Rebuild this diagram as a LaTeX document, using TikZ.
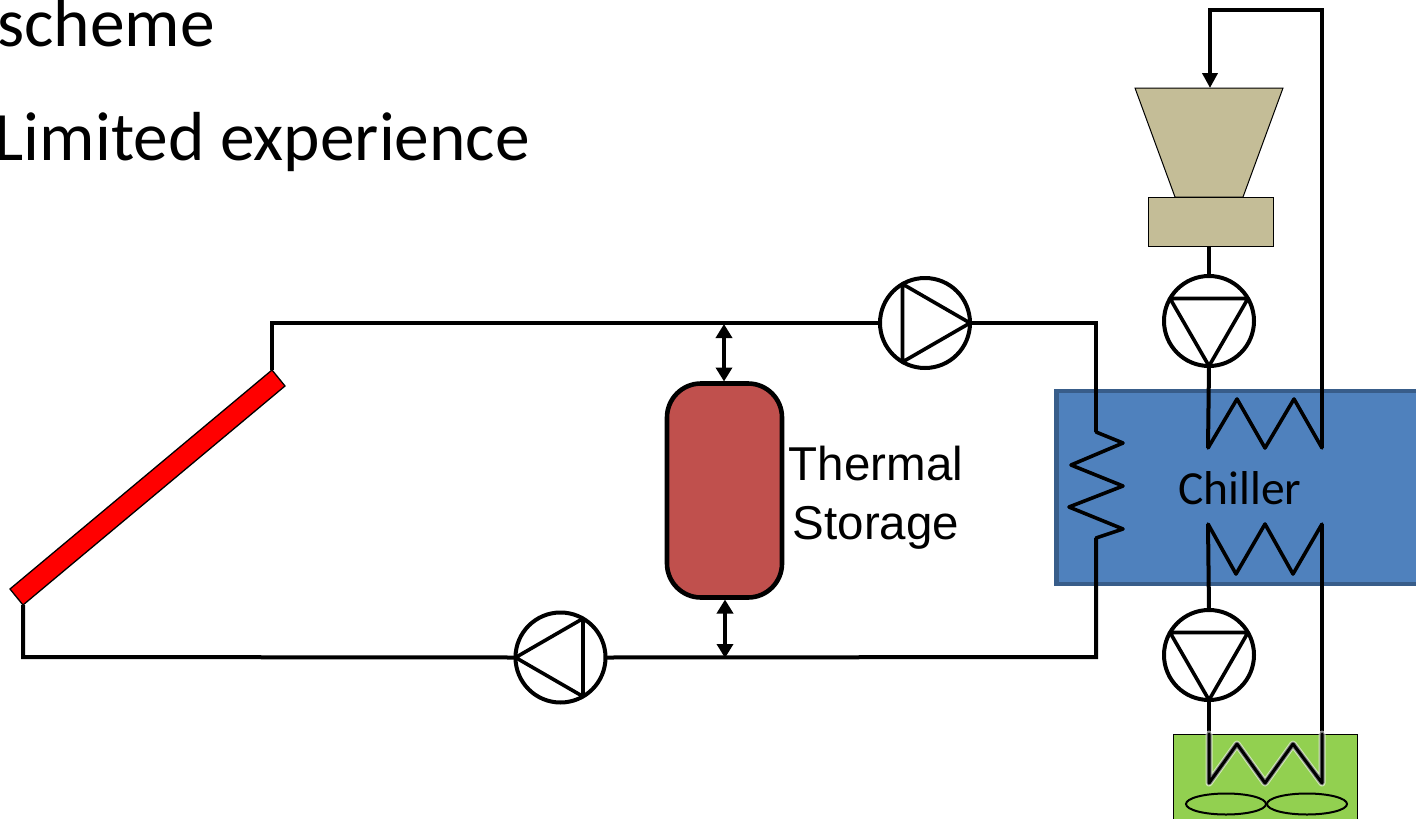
\documentclass[tikz,border=0pt]{standalone}
\usepackage{fontspec}
\setmainfont{Carlito}
\newfontfamily\arialfont{Liberation Sans}
\usetikzlibrary{arrows.meta,shapes.geometric}
\definecolor{chillerblue}{HTML}{4F81BD}
\definecolor{chillerline}{HTML}{385D8A}
\definecolor{storagered}{HTML}{C0504D}
\definecolor{turbinetan}{HTML}{C4BD97}
\definecolor{fangreen}{HTML}{92D050}
\tikzset{
  pipe/.style={line width=4pt,line join=miter,black},
  coil/.style={line width=3.6pt,line join=round,line cap=round,black},
  pumpnode/.style={circle,draw=black,fill=white,line width=4pt,minimum size=90pt,inner sep=0pt,outer sep=0pt},
  pumptri/.style={line width=3.6pt,line join=round},
  thin box/.style={draw=black,line width=1pt,inner sep=0pt,outer sep=0pt},
  headline/.style={anchor=base west,inner sep=0pt,font=\fontsize{69.400}{69.400}\selectfont},
  dbl/.style={line width=3.6pt,{Triangle[length=14pt,width=16pt]}-{Triangle[length=14pt,width=16pt]}},
  fanblade/.style={ellipse,draw=black,line width=2pt,minimum width=80pt,minimum height=21pt,inner sep=0pt}
}
\begin{document}
\begin{tikzpicture}[x=1pt,y=-1pt]
\useasboundingbox (0,0) rectangle (1416,819);
\clip (0,0) rectangle (1416,819);
\fill[white] (0,0) rectangle (1416,819);

% headings
\node[headline] (t1) at (-3,46) {scheme};
\node[headline] (t2) at (-5.500,160) {Limited experience};

% chiller block
\node[draw=chillerline,fill=chillerblue,line width=4.5pt,minimum width=420pt,minimum height=193pt,inner sep=0pt,outer sep=0pt,anchor=north west] (chiller) at (1056.500,391) {};
\node[font=\fontsize{47.500}{47.500}\selectfont,anchor=base,inner sep=0pt] (chillerlabel) at (1240,504) {Chiller};

% fan block
\node[thin box,fill=fangreen,minimum width=184pt,minimum height=120pt,anchor=north west] (fan) at (1173,734) {};

% turbine and generator
\coordinate (tt) at (1210,88);
\draw[draw=black,line width=1pt,fill=turbinetan] (1135,88) -- (1283,88) -- (1243,197) -- (1175,197) -- cycle;
\node[thin box,fill=turbinetan,minimum width=125pt,minimum height=49pt,anchor=north west] (gen) at (1148,197) {};

% collector
\coordinate (cTop) at (272,370);
\coordinate (cBot) at (23,605);
\draw[fill=red,draw=black,line width=1.3pt,line join=miter] (cTop) -- (285,386) -- (cBot) -- (10,589) -- cycle;

% coil junctions
\coordinate (hxA) at (1096,432);
\coordinate (hxB) at (1096,538);
\coordinate (upL) at (1208,448);
\coordinate (upR) at (1322,448);
\coordinate (loL) at (1208,524);
\coordinate (loR) at (1322,524);
\coordinate (fnL) at (1209,783);
\coordinate (fnR) at (1322,783);

% pumps
\node[pumpnode] (p1) at (925,323) {};
\node[pumpnode] (p2) at (560.500,657.500) {};
\node[pumpnode] (p3) at (1209,321) {};
\node[pumpnode] (p4) at (1209,655) {};
\draw[pumptri] (p1.0) -- (p1.120) -- (p1.240) -- cycle;
\draw[pumptri] (p2.180) -- (p2.60) -- (p2.300) -- cycle;
\draw[pumptri] (p3.270) -- (p3.30) -- (p3.150) -- cycle;
\draw[pumptri] (p4.270) -- (p4.30) -- (p4.150) -- cycle;

% storage
\node[draw=black,fill=storagered,line width=4.6pt,rounded corners=34pt,minimum width=115pt,minimum height=214pt,inner sep=0pt,outer sep=2pt] (store) at (724.500,490.500) {};
\node[font=\arialfont\fontsize{47.500}{59}\selectfont,align=center,inner sep=0pt,anchor=base] (storelabel) at (876,539) {Thermal\\Storage};

% main loop
\coordinate (topJ) at (724,323);
\coordinate (botJ) at (725,657);
\draw[pipe] (cTop) -- (272,323) -- (p1.west);
\draw[pipe] (p1.east) -- (1096,323) -- (hxA);
\draw[pipe] (hxB) -- (1096,657) -- (p2.east);
\draw[pipe] (p2.west) -- (23,657) -- (cBot);
\draw[coil] (hxA) -- (1123,443) -- (1071,465) -- (1123,486) -- (1069,507) -- (1123,529) -- (hxB);

% storage connections
\draw[dbl] (topJ) ++(0,1) -- (store.north -| topJ);
\draw[dbl] (store.south -| botJ) -- ([yshift=-1pt]botJ);

% power loop
\draw[pipe,-{Triangle[length=15pt,width=15pt]}] (upR) -- (1322,10) -- (1210,10) -- (tt);
\draw[pipe] (gen.south -| p3) -- (p3.north);
\draw[pipe] (p3.south) -- (upL);
\draw[coil] (upL) -- (1237,399) -- (1265,448) -- (1294,399) -- (upR);

% cooling loop
\draw[coil] (loL) -- (1236,574) -- (1265,524) -- (1293,574) -- (loR);
\draw[pipe] (loL) -- (p4.north);
\draw[pipe] (p4.south) -- (1209,734);
\draw[pipe] (loR) -- (1322,734);

% fan coil with halo
\draw[white,opacity=.6,line width=7pt,line join=round,line cap=round] (1209,734) -- (fnL) -- (1237,744) -- (1265,783) -- (1293,744) -- (fnR) -- (1322,734);
\draw[gray,line width=5pt,line join=round,line cap=round] (1209,734) -- (fnL) -- (1237,744) -- (1265,783) -- (1293,744) -- (fnR) -- (1322,734);
\draw[coil,line width=3pt] (1209,734) -- (fnL) -- (1237,744) -- (1265,783) -- (1293,744) -- (fnR) -- (1322,734);

% fan blades
\node[fanblade] (b1) at (1226,804) {};
\node[fanblade] (b2) at (1307,804) {};
\end{tikzpicture}
\end{document}
